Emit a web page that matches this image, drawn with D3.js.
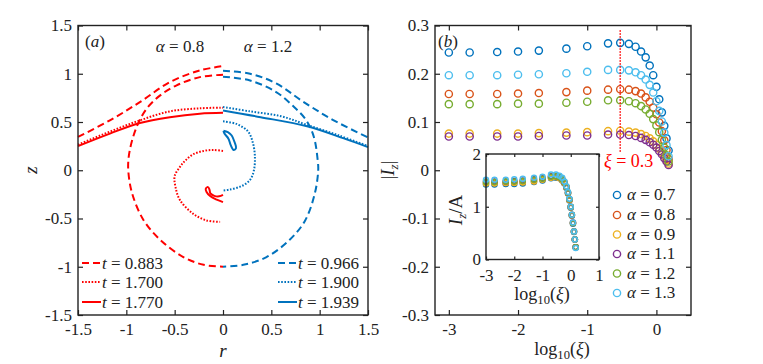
<!DOCTYPE html>
<html>
<head>
<meta charset="utf-8">
<script src="https://cdn.jsdelivr.net/npm/d3@7"></script>
<style>
  body { margin: 0; background: #fff; }
</style>
</head>
<body>
<svg id="chart" width="763" height="364"></svg>
<script>
// ---------- panel (a): sheet shapes, [r, z] ----------
const red08Dash1 = [[-1.5,0.345],[-1.17,0.517],[-0.86,0.706],[-0.55,0.913],[-0.24,1.034],[0,1.08]];
const red08Dash2 = [[0,0.99],[-0.24,0.965],[-0.48,0.88],[-0.65,0.776],[-0.79,0.638],[-0.88,0.48],[-0.94,0.31],[-0.975,0.14],[-0.98,0.0],[-0.94,-0.24],[-0.82,-0.52],[-0.65,-0.72],[-0.41,-0.9],[-0.2,-0.98],[0,-1.0]];
const red08Dot1 = [[-1.5,0.265],[-1.17,0.4],[-0.86,0.517],[-0.55,0.61],[-0.24,0.642],[0,0.648]];
const red08Dot2 = [[0,0.2],[-0.1,0.21],[-0.2,0.2],[-0.31,0.165],[-0.39,0.1],[-0.445,0.035],[-0.5,-0.06],[-0.49,-0.18],[-0.445,-0.31],[-0.31,-0.45],[-0.17,-0.52],[-0.03,-0.535]];
const red08Solid1 = [[-1.5,0.25],[-1.17,0.38],[-0.86,0.49],[-0.55,0.55],[-0.24,0.586],[0,0.595]];
const red08Solid2 = [[0,-0.33],[-0.065,-0.305],[-0.13,-0.27],[-0.17,-0.225],[-0.178,-0.19],[-0.155,-0.175],[-0.14,-0.2],[-0.13,-0.24],[-0.09,-0.265],[-0.04,-0.27],[0,-0.255]];

const blue12Dash1 = [[0,1.03],[0.28,1.0],[0.55,0.9],[0.83,0.71],[1.14,0.52],[1.5,0.34]];
const blue12Dash2 = [[0,0.97],[0.28,0.93],[0.55,0.81],[0.72,0.67],[0.86,0.52],[0.94,0.345],[0.98,0.1],[0.985,0.0],[0.95,-0.24],[0.85,-0.52],[0.69,-0.72],[0.45,-0.9],[0.21,-0.98],[0,-1.0]];
const blue12Dot1 = [[0,0.655],[0.28,0.61],[0.6,0.56],[0.87,0.47],[1.2,0.36],[1.5,0.25]];
const blue12Dot2 = [[0,0.507],[0.14,0.48],[0.26,0.4],[0.31,0.28],[0.33,0.14],[0.32,0.0],[0.28,-0.1],[0.19,-0.165],[0.07,-0.2],[0,-0.21]];
const blue12Solid1 = [[0,0.62],[0.39,0.55],[0.87,0.455],[1.25,0.33],[1.5,0.24]];
const blue12Solid2 = [[0.005,0.41],[0.05,0.395],[0.09,0.36],[0.12,0.29],[0.135,0.23],[0.11,0.21],[0.08,0.26],[0.055,0.33],[0.015,0.38],[0.005,0.41]];

const sheetTimes08 = ["0.883", "1.700", "1.770"];
const sheetTimes12 = ["0.966", "1.900", "1.939"];

// ---------- panel (b): |I_z| against log10(xi) ----------
const logXi = [-3,-2.699,-2.301,-2,-1.699,-1.301,-1,-0.699,-0.523,-0.398,-0.301,-0.222,-0.155,-0.097,-0.046,0,0.041,0.079,0.114,0.146,0.176];
const alphaLabels = ["0.7", "0.8", "0.9", "1.1", "1.2", "1.3"];
const iz07 = [0.244,0.244,0.245,0.246,0.248,0.252,0.257,0.263,0.264,0.262,0.256,0.246,0.234,0.217,0.197,0.173,0.147,0.120,0.092,0.066,0.041];
const iz08 = [0.158,0.158,0.158,0.159,0.160,0.162,0.165,0.167,0.168,0.167,0.164,0.159,0.151,0.142,0.130,0.116,0.099,0.081,0.062,0.042,0.023];
const iz09 = [0.076,0.076,0.076,0.076,0.077,0.078,0.079,0.081,0.082,0.080,0.078,0.075,0.071,0.066,0.060,0.053,0.045,0.037,0.029,0.021,0.014];
const iz11 = [0.070,0.070,0.070,0.070,0.071,0.072,0.072,0.074,0.074,0.073,0.071,0.067,0.063,0.058,0.053,0.047,0.040,0.033,0.025,0.018,0.011];
const iz12 = [0.137,0.137,0.137,0.138,0.138,0.140,0.142,0.145,0.145,0.143,0.139,0.133,0.126,0.117,0.106,0.093,0.079,0.063,0.047,0.031,0.018];
const iz13 = [0.197,0.197,0.197,0.198,0.199,0.201,0.204,0.208,0.208,0.207,0.203,0.197,0.188,0.177,0.161,0.143,0.123,0.101,0.078,0.052,0.029];

// inset: I_z / A
const in07 = [1.42,1.42,1.43,1.43,1.44,1.47,1.50,1.54,1.55,1.54,1.50,1.44,1.36,1.25,1.12,0.98,0.83,0.68,0.52,0.38,0.23];
const in08 = [1.45,1.45,1.45,1.46,1.47,1.49,1.52,1.56,1.57,1.55,1.51,1.45,1.37,1.26,1.13,0.99,0.84,0.69,0.53,0.38,0.23];
const in09 = [1.44,1.44,1.45,1.45,1.46,1.48,1.51,1.55,1.56,1.54,1.50,1.45,1.37,1.26,1.13,0.99,0.84,0.69,0.53,0.38,0.23];
const in11 = [1.48,1.48,1.48,1.49,1.50,1.52,1.54,1.58,1.58,1.56,1.52,1.46,1.38,1.27,1.14,1.00,0.85,0.70,0.53,0.38,0.23];
const in12 = [1.47,1.47,1.48,1.48,1.49,1.51,1.53,1.57,1.58,1.56,1.52,1.46,1.38,1.27,1.14,1.00,0.85,0.69,0.53,0.38,0.23];
const in13 = [1.51,1.51,1.51,1.52,1.53,1.55,1.57,1.61,1.61,1.59,1.55,1.48,1.39,1.28,1.15,1.00,0.85,0.70,0.53,0.38,0.22];

const xiMark = -0.523;   // log10(0.3)
const xiMarkRange = [0.035, 0.29];

const ticksA = [-1.5, -1, -0.5, 0, 0.5, 1, 1.5];
const ticksBx = [-3, -2, -1, 0];
const ticksBy = [-0.3, -0.2, -0.1, 0, 0.1, 0.2, 0.3];
const ticksIx = [-3, -2, -1, 0, 1];
const ticksIy = [0, 1, 2];

const RED = "#ff0000", BLUE = "#0072bd";
const seriesColors = ["#0072bd", "#d95319", "#edb120", "#7e2f8e", "#77ac30", "#4dbeee"];
const mainSeries = [iz07, iz08, iz09, iz11, iz12, iz13];
const insetSeries = [in07, in08, in09, in11, in12, in13];

const SERIF = '"Liberation Serif", serif';
const svg = d3.select("#chart").style("font-family", SERIF);
const FS = 17;

// draws a boxed axis with inward ticks on all four sides
function boxAxes(g, x, y, xt, yt, opts) {
  const [x0, x1] = x.range(), [y0, y1] = y.range();
  const fmt = d => String(d);
  g.append("g").attr("transform", `translate(0,${y0})`)
    .call(d3.axisBottom(x).tickValues(xt).tickFormat(fmt).tickSizeInner(-opts.tick).tickSizeOuter(0).tickPadding(opts.padX))
    .call(s => s.select(".domain").remove());
  g.append("g").attr("transform", `translate(0,${y1})`)
    .call(d3.axisTop(x).tickValues(xt).tickFormat("").tickSizeInner(-opts.tick).tickSizeOuter(0))
    .call(s => s.select(".domain").remove());
  g.append("g").attr("transform", `translate(${x0},0)`)
    .call(d3.axisLeft(y).tickValues(yt).tickFormat(fmt).tickSizeInner(-opts.tick).tickSizeOuter(0).tickPadding(opts.padY))
    .call(s => s.select(".domain").remove());
  g.append("g").attr("transform", `translate(${x1},0)`)
    .call(d3.axisRight(y).tickValues(yt).tickFormat("").tickSizeInner(-opts.tick).tickSizeOuter(0))
    .call(s => s.select(".domain").remove());
  g.selectAll("g").attr("font-family", null);
  g.selectAll(".tick line").attr("stroke", "#222").attr("stroke-width", 1.2);
  g.selectAll(".tick text").attr("font-size", FS).attr("fill", "#222")
    .style("font-family", SERIF);
  g.append("rect").attr("x", x0).attr("y", y1).attr("width", x1 - x0).attr("height", y0 - y1)
    .attr("fill", "none").attr("stroke", "#222").attr("stroke-width", 1.4);
}

// text with mixed italic / upright runs: parts = [[string, italic?, extra attrs]]
function richText(g, x, y, size, parts, anchor, transform) {
  const t = g.append("text").attr("font-size", size).attr("fill", "#222")
    .style("font-family", SERIF).attr("text-anchor", anchor || "start");
  if (transform) t.attr("transform", transform); else t.attr("x", x).attr("y", y);
  parts.forEach(p => {
    const s = t.append("tspan").text(p[0]);
    if (p[1]) s.attr("font-style", "italic");
    if (p[2]) Object.entries(p[2]).forEach(([k, v]) => s.attr(k, v));
  });
  return t;
}

// ================= panel (a) =================
const xA = d3.scaleLinear().domain([-1.5, 1.5]).range([78, 368]);
const yA = d3.scaleLinear().domain([-1.5, 1.5]).range([315, 25.5]);
const gA = svg.append("g");

const lineA = d3.line().x(d => xA(d[0])).y(d => yA(d[1])).curve(d3.curveCatmullRom.alpha(0.5));
const DASH = "7,4", DOT = "1.6,1.6";
const curvesA = [
  [red08Dash1, RED, DASH], [red08Dash2, RED, DASH],
  [red08Dot1, RED, DOT], [red08Dot2, RED, DOT],
  [red08Solid1, RED, null], [red08Solid2, RED, null],
  [blue12Dash1, BLUE, DASH], [blue12Dash2, BLUE, DASH],
  [blue12Dot1, BLUE, DOT], [blue12Dot2, BLUE, DOT],
  [blue12Solid1, BLUE, null], [blue12Solid2, BLUE, null]
];
gA.selectAll("path.sheet").data(curvesA).enter().append("path")
  .attr("class", "sheet")
  .attr("d", d => lineA(d[0]))
  .attr("fill", "none")
  .attr("stroke", d => d[1])
  .attr("stroke-width", 2)
  .attr("stroke-dasharray", d => d[2]);

boxAxes(gA, xA, yA, ticksA, ticksA, { tick: 5, padX: 8, padY: 6 });

// legend of (a)
const legStyles = [DASH, DOT, null];
const legRows = [263, 282, 302];
function sheetLegend(x, color, times) {
  times.forEach((t, i) => {
    gA.append("line").attr("x1", x).attr("x2", x + 19).attr("y1", legRows[i]).attr("y2", legRows[i])
      .attr("stroke", color).attr("stroke-width", 2).attr("stroke-dasharray", legStyles[i]);
    richText(gA, x + 20, legRows[i] + 6, FS, [["t", true], [" = " + t]]);
  });
}
sheetLegend(82, RED, sheetTimes08);
sheetLegend(278, BLUE, sheetTimes12);

// annotations (a)
richText(gA, 85, 47, FS, [["("], ["a", true], [")"]]);
richText(gA, 180, 52, FS, [["α", true], [" = 0.8"]], "middle");
richText(gA, 268, 52, FS, [["α", true], [" = 1.2"]], "middle");
richText(gA, 223, 357, 19, [["r", true]], "middle");
richText(gA, 0, 0, 19, [["z", true]], "middle", "translate(37,170) rotate(-90)");

// ================= panel (b) =================
const xB = d3.scaleLinear().domain([-3.2, 0.5]).range([435, 691]);
const yB = d3.scaleLinear().domain([-0.3, 0.3]).range([315, 25.5]);
const gB = svg.append("g");

mainSeries.forEach((vals, si) => {
  gB.append("g").selectAll("circle").data(vals).enter().append("circle")
    .attr("cx", (d, i) => xB(logXi[i]))
    .attr("cy", d => yB(d))
    .attr("r", 3.6)
    .attr("fill", "none")
    .attr("stroke", seriesColors[si])
    .attr("stroke-width", 1.4);
});

gB.append("line")
  .attr("x1", xB(xiMark)).attr("x2", xB(xiMark))
  .attr("y1", yB(xiMarkRange[1])).attr("y2", yB(xiMarkRange[0]))
  .attr("stroke", RED).attr("stroke-width", 1.5).attr("stroke-dasharray", "1.5,1.5");
richText(gB, 604, 167, 18, [["ξ", true], [" = 0.3"]]).attr("fill", RED);

boxAxes(gB, xB, yB, ticksBx, ticksBy, { tick: 5, padX: 8, padY: 6 });

richText(gB, 438, 47, FS, [["("], ["b", true], [")"]]);

// legend (b)
const legB = [200, 220, 239.5, 259, 278.5, 298];
alphaLabels.forEach((a, i) => {
  gB.append("circle").attr("cx", 617).attr("cy", legB[i] - 5).attr("r", 3.6)
    .attr("fill", "none").attr("stroke", seriesColors[i]).attr("stroke-width", 1.4);
  richText(gB, 627, legB[i], FS, [["α", true], [" = " + a]]);
});

// axis labels (b)
function logLabel(g, cx, cy, size) {
  richText(g, cx, cy, size, [
    ["log"],
    ["10", false, { "font-size": size * 0.7, dy: size * 0.2 }],
    ["(", false, { dy: -size * 0.2 }],
    ["ξ", true],
    [")"]
  ], "middle");
}
logLabel(gB, 562, 355, 18);
richText(gB, 0, 0, 19, [
  ["|"], ["I", true], ["z", true, { "font-size": 13, dy: 4 }], ["|", false, { dy: -4 }]
], "middle", "translate(394,170) rotate(-90)");

// ================= inset =================
const xI = d3.scaleLinear().domain([-3, 1]).range([486, 599]);
const yI = d3.scaleLinear().domain([0, 2]).range([259.5, 154]);
const gI = svg.append("g");
gI.append("rect").attr("x", 486).attr("y", 154).attr("width", 113).attr("height", 105.5).attr("fill", "#fff");
insetSeries.forEach((vals, si) => {
  gI.append("g").selectAll("circle").data(vals).enter().append("circle")
    .attr("cx", (d, i) => xI(logXi[i]))
    .attr("cy", d => yI(d))
    .attr("r", 2.5)
    .attr("fill", "none")
    .attr("stroke", seriesColors[si])
    .attr("stroke-width", 1.5);
});
boxAxes(gI, xI, yI, ticksIx, ticksIy, { tick: 3, padX: 9, padY: 5 });
logLabel(gI, 542, 300, 18);
richText(gI, 0, 0, 19, [
  ["I", true], ["z", true, { "font-size": 13, dy: 4 }], ["/A", false, { dy: -4 }]
], "middle", "translate(462,210) rotate(-90)");
</script>
</body>
</html>
